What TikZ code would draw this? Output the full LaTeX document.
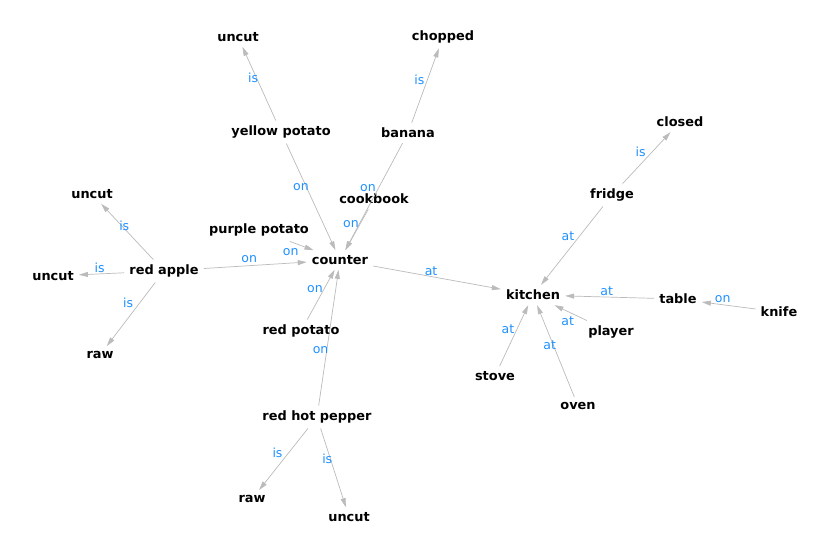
\documentclass[tikz,border=0pt]{standalone}
\usepackage{fontspec}
\setmainfont{DejaVu Sans}
\usetikzlibrary{arrows.meta}
\definecolor{edgegray}{HTML}{BBBBBB}
\definecolor{lblblue}{HTML}{1E90FF}
\begin{document}
\begin{tikzpicture}[x=1pt,y=-1pt,
    ent/.style={font=\bfseries\fontsize{12.9}{15}\selectfont,inner sep=5pt},
    lbl/.style={midway,text=lblblue,font=\fontsize{12.5}{15}\selectfont,inner sep=0pt,xshift=-6pt,yshift=6pt},
    edge/.style={draw=edgegray,line width=0.7pt,-{Triangle[length=9pt,width=5pt]}}]
      \useasboundingbox (0,0) rectangle (830,556);
      \begin{scope}[every node/.style={ent}]
      \draw
        (238,37) node (uncutA){uncut}
        (443,37) node (chopped){chopped}
        (281,132) node (yellowpotato){yellow potato}
        (408,133) node (banana){banana}
        (680,122) node (closed){closed}
        (612,195) node (fridge){fridge}
        (374,199) node (cookbook){cookbook}
        (92,194) node (uncutB){uncut}
        (259,230) node (purplepotato){purple potato}
        (340,260) node (counter){counter}
        (164,271) node (redapple){red apple}
        (53,276) node (uncutC){uncut}
        (533,295) node (kitchen){kitchen}
        (678,299) node (table){table}
        (779,312) node (knife){knife}
        (301,331) node (redpotato){red potato}
        (611,332) node (player){player}
        (100,355) node (rawA){raw}
        (495,376) node (stove){stove}
        (578,406) node (oven){oven}
        (317,417) node (redhotpepper){red hot pepper}
        (252,499) node (rawB){raw}
        (349,517) node (uncutD){uncut};
      \end{scope}
      \begin{scope}[edge]
        \draw (yellowpotato) to node[lbl] {is} (uncutA);
        \draw (banana) to node[lbl] {is} (chopped);
        \draw (yellowpotato) to node[lbl,xshift=-4pt,yshift=4pt] {on} (counter);
        \draw (banana) to node[lbl,yshift=3pt] {on} (counter);
        \draw (cookbook) to node[lbl] {on} (counter);
        \draw (purplepotato) to node[lbl,xshift=-5pt,yshift=-12pt] {on} (counter);
        \draw (redapple) to node[lbl] {on} (counter);
        \draw (redpotato) to node[lbl] {on} (counter);
        \draw (redhotpepper) to node[lbl,xshift=-2pt,yshift=-18pt] {on} (counter);
        \draw (counter) to node[lbl] {at} (kitchen);
        \draw (fridge) to node[lbl] {is} (closed);
        \draw (fridge) to node[lbl,xshift=2pt,yshift=3pt] {at} (kitchen);
        \draw (table) to node[lbl,xshift=3pt] {at} (kitchen);
        \draw (knife) to node[lbl] {on} (table);
        \draw (player) to node[lbl,xshift=3pt,yshift=-14pt] {at} (kitchen);
        \draw (stove) to node[lbl] {at} (kitchen);
        \draw (oven) to node[lbl] {at} (kitchen);
        \draw (redapple) to node[lbl,xshift=3pt] {is} (uncutB);
        \draw (redapple) to node[lbl,xshift=4pt] {is} (uncutC);
        \draw (redapple) to node[lbl,xshift=3pt,yshift=5pt] {is} (rawA);
        \draw (redhotpepper) to node[lbl] {is} (rawB);
        \draw (redhotpepper) to node[lbl,yshift=3pt] {is} (uncutD);
      \end{scope}
    \end{tikzpicture}
\end{document}
